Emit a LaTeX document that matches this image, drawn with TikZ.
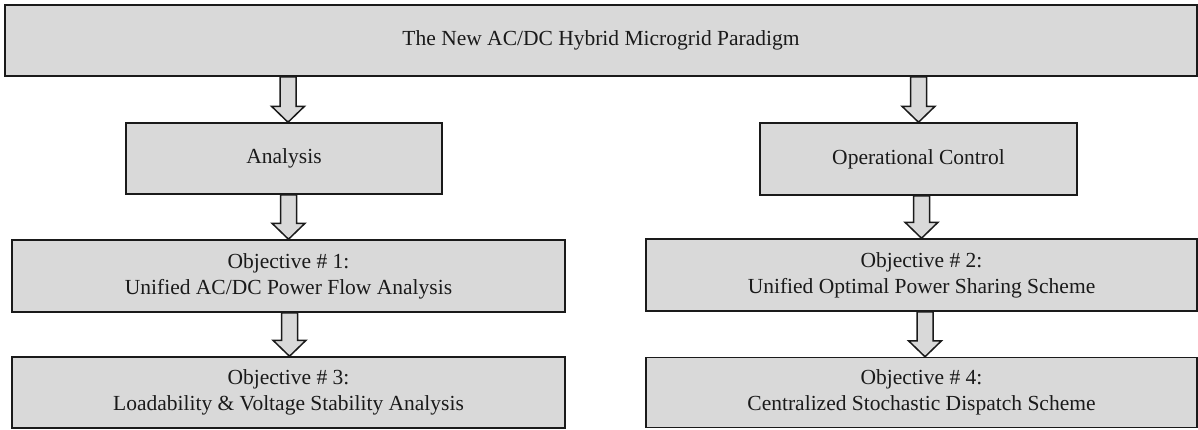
\documentclass[tikz,border=0pt]{standalone}
\usepackage{fontspec}
\setmainfont{Liberation Serif}
\usetikzlibrary{calc}
\definecolor{boxfill}{HTML}{D9D9D9}
\definecolor{ink}{HTML}{1A1A1A}
\tikzset{
  box/.style={draw=ink, fill=boxfill, line width=1.5pt, inner sep=0pt,
    text=ink, align=center, font=\fontsize{21.5}{26}\selectfont},
  blk/.style={draw=ink, fill=boxfill, line width=1.5pt, line join=miter},
}
% block arrow: #1 = x shift, #2 = start (source side), #3 = tip
\newcommand{\blockarr}[3]{%
  \draw[blk] ($(#2)+(#1-8,0)$) -- ($(#3)+(#1-8,-16)$) -- ($(#3)+(#1-16.5,-16)$)
    -- ($(#3)+(#1,0)$) -- ($(#3)+(#1+16.5,-16)$) -- ($(#3)+(#1+8,-16)$)
    -- ($(#2)+(#1+8,0)$) -- cycle;}
\begin{document}
\begin{tikzpicture}[x=1pt,y=-1pt]
\useasboundingbox (0,0) rectangle (1198,429);
\node[box, minimum width=1192pt, minimum height=71pt] (top) at (601,40.5) {The New AC/DC Hybrid Microgrid Paradigm};
\node[box, minimum width=316pt, minimum height=71pt] (an) at (284,158.5) {Analysis};
\node[box, minimum width=317pt, minimum height=72pt] (oc) at (918.5,159) {Operational Control};
\node[box, minimum width=553pt, minimum height=72pt] (o1) at (288.5,276) {Objective \# 1:\\Unified AC/DC Power Flow Analysis};
\node[box, minimum width=553pt, minimum height=71pt] (o3) at (288.5,392.5) {Objective \# 3:\\Loadability \& Voltage Stability Analysis};
\node[box, minimum width=551pt, minimum height=72pt] (o2) at (921.5,275) {Objective \# 2:\\Unified Optimal Power Sharing Scheme};
\node[box, minimum width=551pt, minimum height=70pt] (o4) at (921.5,392.5) {Objective \# 4:\\Centralized Stochastic Dispatch Scheme};
\blockarr{4}{top.south -| an.north}{an.north}
\blockarr{0}{an.south -| o1.north}{o1.north}
\blockarr{1}{o1.south}{o3.north}
\blockarr{0}{top.south -| oc.north}{oc.north}
\blockarr{0}{oc.south -| o2.north}{o2.north}
\blockarr{3.5}{o2.south}{o4.north}
\end{tikzpicture}
\end{document}
